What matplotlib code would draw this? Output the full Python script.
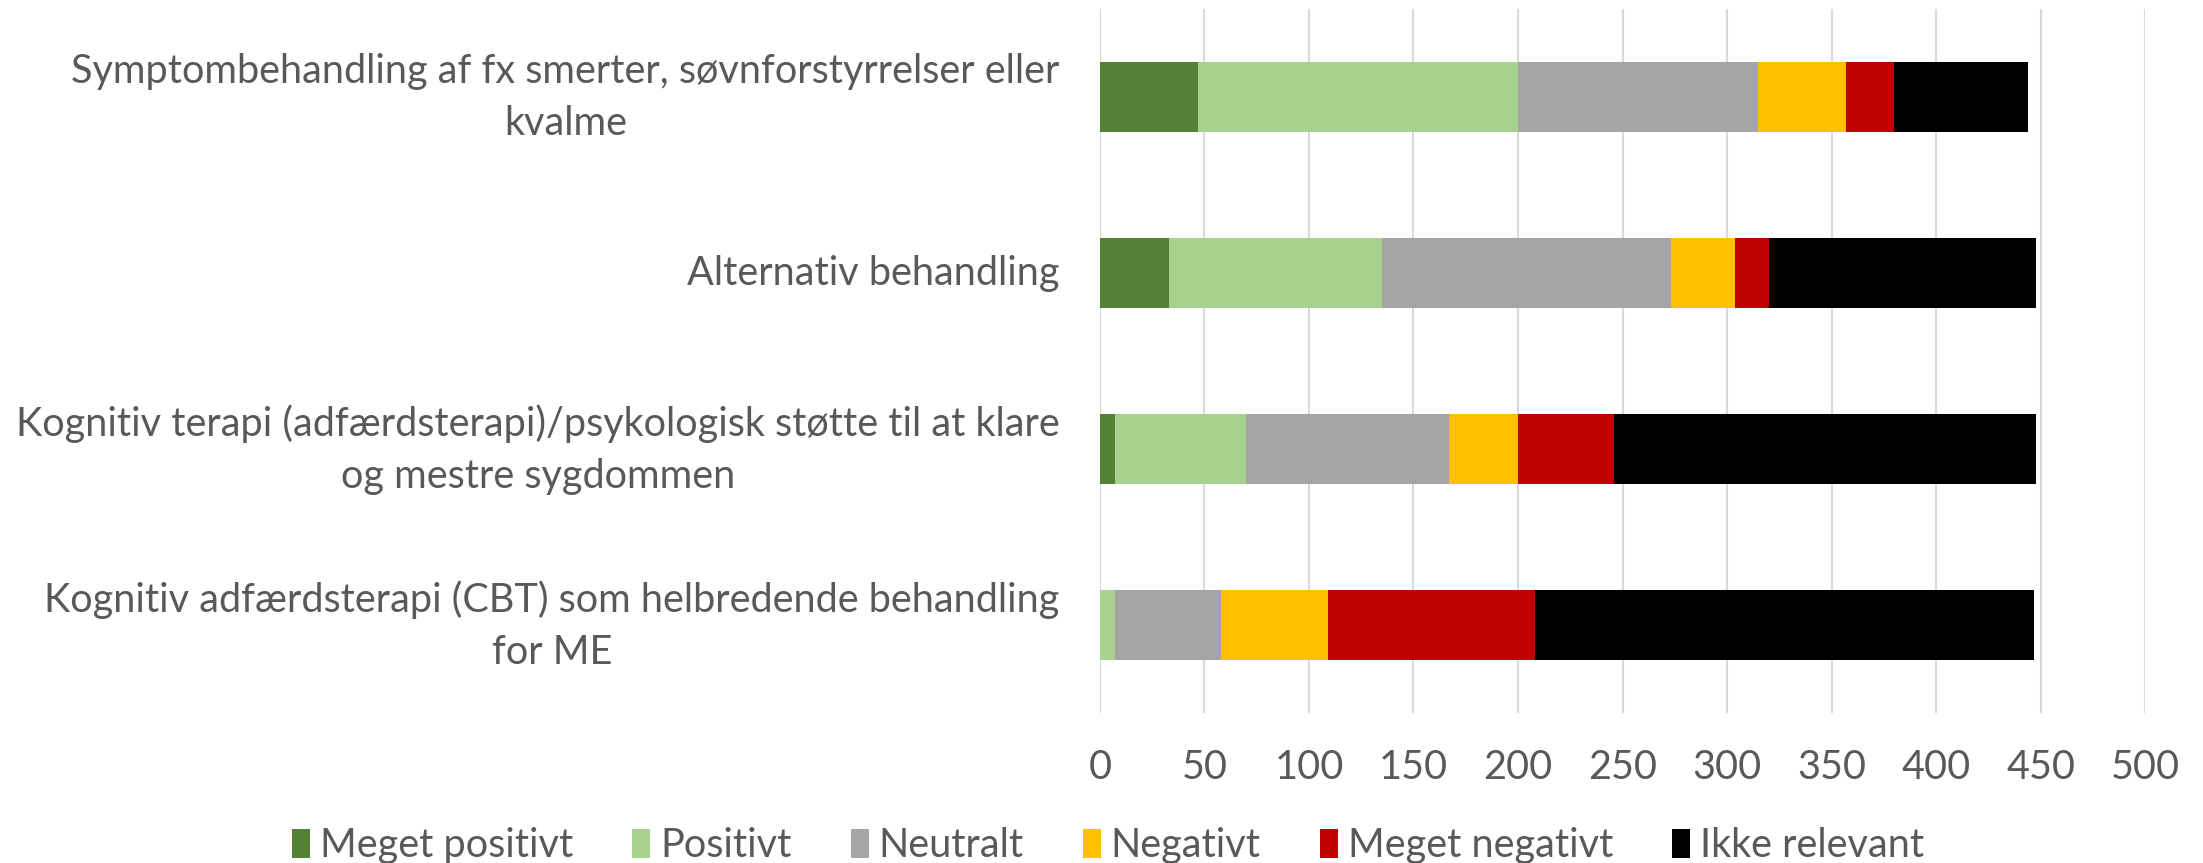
import matplotlib.pyplot as plt
import matplotlib.transforms as mtransforms
import numpy as np

# vurdering af behandlinger - stablede vandrette soejler

categories = [
    'Symptombehandling af fx smerter, søvnforstyrrelser eller\nkvalme',
    'Alternativ behandling',
    'Kognitiv terapi (adfærdsterapi)/psykologisk støtte til at klare\nog mestre sygdommen',
    'Kognitiv adfærdsterapi (CBT) som helbredende behandling\nfor ME',
]

series_names = ['Meget positivt', 'Positivt', 'Neutralt', 'Negativt', 'Meget negativt', 'Ikke relevant']
meget_positivt = [47, 33, 7, 0]
positivt = [153, 102, 63, 7]
neutralt = [115, 138, 97, 51]
negativt = [42, 31, 33, 51]
meget_negativt = [23, 16, 46, 99]
ikke_relevant = [64, 128, 202, 239]

colors = ['#548235', '#a9d18e', '#a5a5a5', '#ffc000', '#c00000', '#000000']

plt.rcParams['font.family'] = ['Lato', 'DejaVu Sans']
text_color = '#595959'

fig = plt.figure(figsize=(22.03, 8.63), dpi=100)
ax = fig.add_axes([0.4993, 0.1738, 0.4744, 0.8158])

data = [meget_positivt, positivt, neutralt, negativt, meget_negativt, ikke_relevant]
y = np.arange(len(categories))
left = np.zeros(len(categories))
for name, vals, c in zip(series_names, data, colors):
    ax.barh(y, vals, left=left, height=0.4, color=c, label=name, zorder=3)
    left += np.array(vals)

ax.set_xlim(0, 500)
ax.set_xticks(np.arange(0, 501, 50))
ax.set_ylim(len(categories) - 0.5, -0.5)
ax.set_yticks(y)
ax.set_yticklabels(categories, multialignment='center', linespacing=1.5)
ax.tick_params(axis='both', length=0, labelsize=28.5, colors=text_color)
ax.tick_params(axis='x', pad=26)
ax.tick_params(axis='y', pad=29)
ax.grid(axis='x', color='#d9d9d9', linewidth=1.5, zorder=0)
for s in ax.spines.values():
    s.set_visible(False)

# lidt op med etiketterne
for lab in ax.get_yticklabels():
    dy = 10 if '\n' in lab.get_text() else 3
    lab.set_transform(lab.get_transform() + mtransforms.ScaledTranslation(0, dy / 100, fig.dpi_scale_trans))

fig.legend(loc='lower center', bbox_to_anchor=(0.503, -0.043), ncol=6, frameon=False,
           fontsize=28.5, labelcolor=text_color, handlelength=0.45, handleheight=0.75,
           handletextpad=0.25, columnspacing=1.5)

plt.savefig('out.png')
